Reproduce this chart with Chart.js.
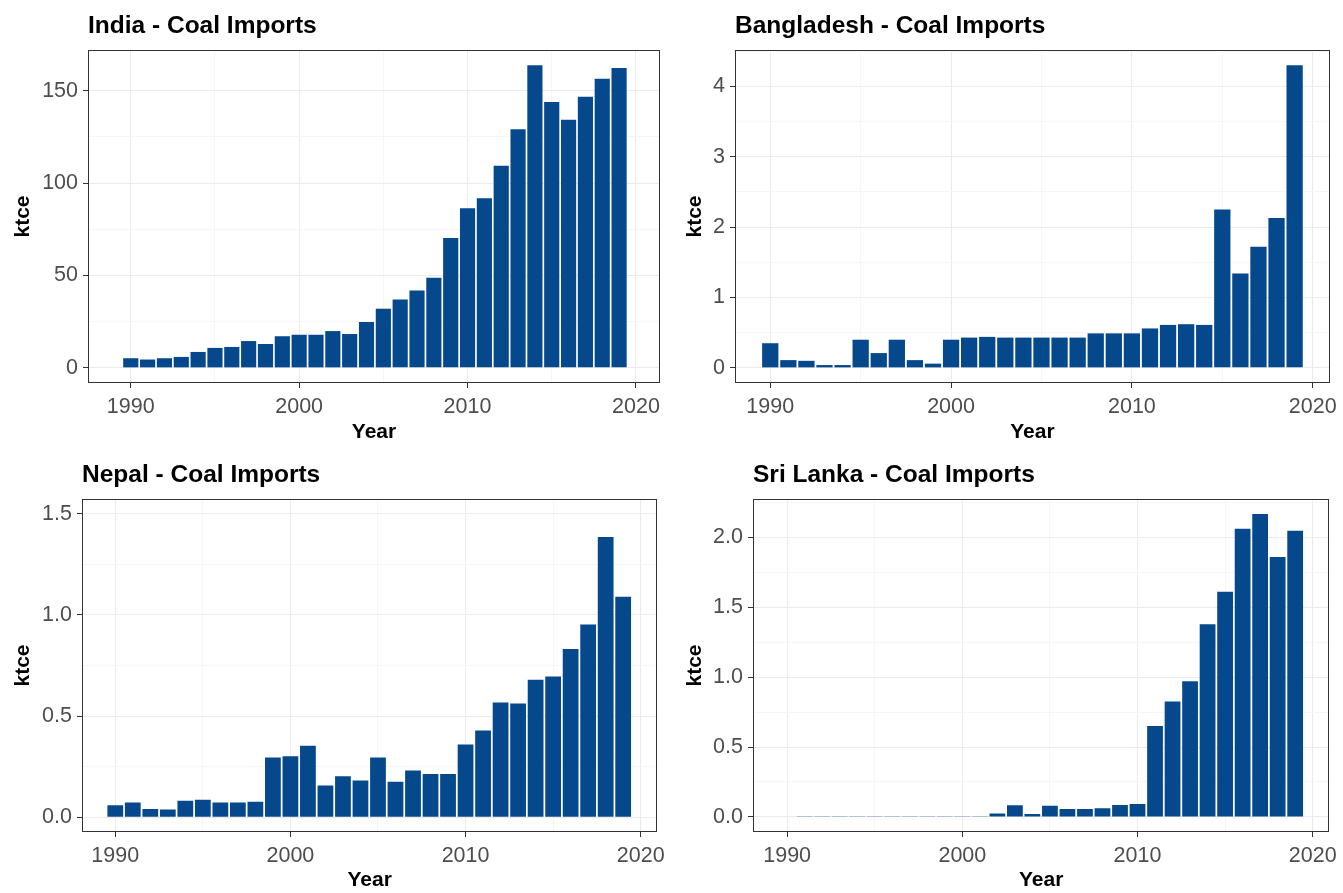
<!DOCTYPE html>
<html>
<head>
    <title>Coal Imports</title>
    <script src="https://cdn.jsdelivr.net/npm/chart.js"></script>
    <style>
        body {
            margin: 0;
            background: #ffffff;
            font-family: "Liberation Sans", Arial, sans-serif;
        }
        #panels {
            position: relative;
            width: 1343px;
            height: 893px;
        }
        #panels canvas {
            position: absolute;
        }
    </style>
</head>
<body>
    <div id="panels">
        <canvas id="india" width="671" height="449" style="left:0px;top:0px"></canvas>
        <canvas id="bangladesh" width="672" height="449" style="left:671px;top:0px"></canvas>
        <canvas id="nepal" width="671" height="444" style="left:0px;top:449px"></canvas>
        <canvas id="srilanka" width="672" height="444" style="left:671px;top:449px"></canvas>
    </div>

    <script>
        // Annual coal imports, ktce
        const years = [1990, 1991, 1992, 1993, 1994, 1995, 1996, 1997, 1998, 1999,
                       2000, 2001, 2002, 2003, 2004, 2005, 2006, 2007, 2008, 2009,
                       2010, 2011, 2012, 2013, 2014, 2015, 2016, 2017, 2018, 2019];

        const india = [5.2, 4.5, 5.2, 5.9, 8.6, 10.8, 11.3, 14.5, 12.9, 17.1,
                       17.9, 17.9, 19.9, 18.3, 24.8, 32.0, 37.0, 41.8, 48.8, 70.2,
                       86.4, 91.8, 109.4, 129.1, 163.8, 143.9, 134.2, 146.7, 156.4, 162.2];

        const bangladesh = [0.35, 0.11, 0.10, 0.04, 0.04, 0.40, 0.21, 0.40, 0.11, 0.06,
                            0.40, 0.43, 0.44, 0.43, 0.43, 0.43, 0.43, 0.43, 0.49, 0.49,
                            0.49, 0.56, 0.61, 0.62, 0.61, 2.25, 1.34, 1.72, 2.13, 4.30];

        const nepal = [0.059, 0.073, 0.041, 0.038, 0.081, 0.087, 0.073, 0.073, 0.076, 0.295,
                       0.302, 0.353, 0.157, 0.203, 0.181, 0.295, 0.175, 0.231, 0.214, 0.214,
                       0.359, 0.429, 0.567, 0.562, 0.679, 0.696, 0.832, 0.953, 1.385, 1.090];

        const sriLanka = [0.003, 0.002, 0.002, 0.002, 0.002, 0.002, 0.002, 0.002, 0.002, 0.002,
                          0.002, 0.002, 0.024, 0.083, 0.021, 0.079, 0.057, 0.057, 0.062, 0.086,
                          0.093, 0.650, 0.826, 0.971, 1.379, 1.612, 2.062, 2.167, 1.860, 2.048];

        const fontFamily = '"Liberation Sans", Arial, sans-serif';
        const barColor = '#05488c';

        const isMajor = (v, step) => Math.abs(v / step - Math.round(v / step)) < 1e-6;

        // dark box round the plotting area on all four sides
        const panelFrame = {
            id: 'panelFrame',
            afterDraw(chart) {
                const a = chart.chartArea;
                const ctx = chart.ctx;
                ctx.save();
                ctx.strokeStyle = '#333333';
                ctx.lineWidth = 1;
                ctx.strokeRect(Math.round(a.left) + 0.5, Math.round(a.top) + 0.5,
                               Math.round(a.right - a.left) - 1, Math.round(a.bottom - a.top) - 1);
                ctx.restore();
            }
        };

        function drawPanel(id, title, values, o) {
            new Chart(document.getElementById(id), {
                type: 'bar',
                data: {
                    datasets: [{
                        data: years.map((yr, i) => ({ x: yr, y: values[i] })),
                        backgroundColor: barColor,
                        borderWidth: 0,
                        categoryPercentage: 1,
                        barPercentage: 0.9
                    }]
                },
                options: {
                    responsive: false,
                    animation: false,
                    layout: { padding: { left: o.padLeft, right: o.padRight, top: 0, bottom: 0 } },
                    plugins: {
                        legend: { display: false },
                        tooltip: { enabled: false },
                        title: {
                            display: true,
                            text: title,
                            align: 'start',
                            fullSize: false,
                            color: '#000000',
                            font: { family: fontFamily, size: 24.5, weight: 'bold' },
                            padding: { top: 11.3, bottom: 9.3 }
                        }
                    },
                    scales: {
                        x: {
                            type: 'linear',
                            min: o.xMin,
                            max: o.xMax,
                            offset: false,
                            afterFit: s => { s.height = o.xHeight; },
                            ticks: {
                                stepSize: 5,
                                includeBounds: false,
                                autoSkip: false,
                                maxRotation: 0,
                                padding: 6,
                                color: '#4d4d4d',
                                font: { family: fontFamily, size: 21.5 },
                                callback: v => isMajor(v, 10) ? String(v) : ''
                            },
                            grid: {
                                offset: false,
                                tickLength: 5,
                                color: c => (c.tick && isMajor(c.tick.value, 10)) ? '#ebebeb' : '#f6f6f6',
                                tickColor: c => (c.tick && isMajor(c.tick.value, 10)) ? '#333333' : 'rgba(0,0,0,0)'
                            },
                            border: { display: false },
                            title: {
                                display: true,
                                text: 'Year',
                                color: '#000000',
                                font: { family: fontFamily, size: 21, weight: 'bold' },
                                padding: { top: 0, bottom: o.yearPad }
                            }
                        },
                        y: {
                            min: o.yMin,
                            max: o.yMax,
                            afterFit: s => { s.width = o.yWidth; },
                            ticks: {
                                stepSize: o.yStep / 2,
                                includeBounds: false,
                                autoSkip: false,
                                padding: 5,
                                color: '#4d4d4d',
                                font: { family: fontFamily, size: 21.5 },
                                callback: v => isMajor(v, o.yStep) ? v.toFixed(o.decimals) : ''
                            },
                            grid: {
                                tickLength: 5,
                                color: c => (c.tick && isMajor(c.tick.value, o.yStep)) ? '#ebebeb' : '#f6f6f6',
                                tickColor: c => (c.tick && isMajor(c.tick.value, o.yStep)) ? '#333333' : 'rgba(0,0,0,0)'
                            },
                            border: { display: false },
                            title: {
                                display: true,
                                text: 'ktce',
                                color: '#000000',
                                font: { family: fontFamily, size: 21, weight: 'bold' },
                                padding: { top: 5, bottom: 4 }
                            }
                        }
                    }
                },
                plugins: [panelFrame]
            });
        }

        drawPanel('india', 'India - Coal Imports', india, {
            padLeft: 6, padRight: 11, yWidth: 82, xHeight: 66, yearPad: 4,
            xMin: 1987.46, xMax: 2021.43, yMin: -8.2, yMax: 172, yStep: 50, decimals: 0
        });
        drawPanel('bangladesh', 'Bangladesh - Coal Imports', bangladesh, {
            padLeft: 7, padRight: 12, yWidth: 57, xHeight: 66, yearPad: 4,
            xMin: 1988.05, xMax: 2020.95, yMin: -0.215, yMax: 4.515, yStep: 1, decimals: 0
        });
        drawPanel('nepal', 'Nepal - Coal Imports', nepal, {
            padLeft: 6, padRight: 10, yWidth: 76, xHeight: 61, yearPad: 0,
            xMin: 1988.1, xMax: 2020.95, yMin: -0.073, yMax: 1.573, yStep: 0.5, decimals: 1
        });
        drawPanel('srilanka', 'Sri Lanka - Coal Imports', sriLanka, {
            padLeft: 7, padRight: 11, yWidth: 75, xHeight: 61, yearPad: 0,
            xMin: 1988.05, xMax: 2020.95, yMin: -0.108, yMax: 2.275, yStep: 0.5, decimals: 1
        });
    </script>
</body>
</html>
